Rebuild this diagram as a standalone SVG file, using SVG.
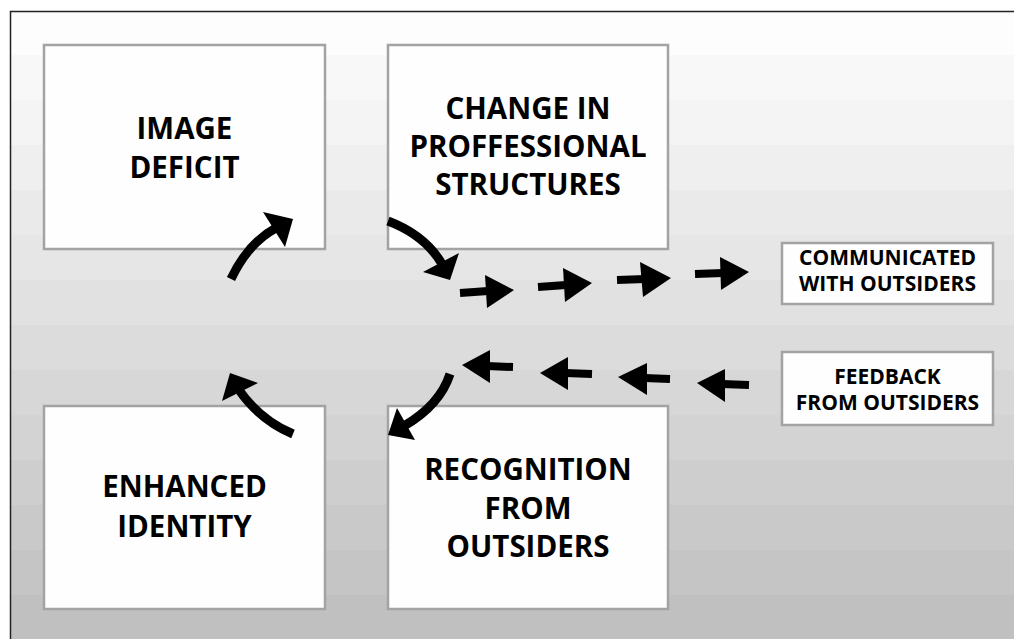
<svg xmlns="http://www.w3.org/2000/svg" width="1014" height="639" viewBox="0 0 1014 639">
<style>
.box{fill:#fefefe;stroke:#a3a3a3;stroke-width:2.5}
.big{font-family:"Open Sans","Liberation Sans",sans-serif;font-weight:bold;font-size:29.5px;fill:#000;text-anchor:middle}
.small{font-family:"Open Sans","Liberation Sans",sans-serif;font-weight:bold;font-size:21px;fill:#000;text-anchor:middle}
.shaft{fill:none;stroke:#000;stroke-width:9}
.hshaft{fill:none;stroke:#000;stroke-width:8}
.head{fill:#000}
</style>
<rect width="1014" height="639" fill="#fff"/>
<g id="background">
<rect x="10" y="11" width="1004" height="44" fill="#fdfdfd"/>
<rect x="10" y="55" width="1004" height="45" fill="#f8f8f8"/>
<rect x="10" y="100" width="1004" height="45" fill="#f4f4f4"/>
<rect x="10" y="145" width="1004" height="45" fill="#efefef"/>
<rect x="10" y="190" width="1004" height="45" fill="#eaeaea"/>
<rect x="10" y="235" width="1004" height="45" fill="#e6e6e6"/>
<rect x="10" y="280" width="1004" height="45" fill="#e1e1e1"/>
<rect x="10" y="325" width="1004" height="45" fill="#dcdcdc"/>
<rect x="10" y="370" width="1004" height="45" fill="#d7d7d7"/>
<rect x="10" y="415" width="1004" height="45" fill="#d3d3d3"/>
<rect x="10" y="460" width="1004" height="45" fill="#cecece"/>
<rect x="10" y="505" width="1004" height="45" fill="#c9c9c9"/>
<rect x="10" y="550" width="1004" height="45" fill="#c5c5c5"/>
<rect x="10" y="595" width="1004" height="44" fill="#c0c0c0"/>
<path d="M10.5,639 V11.5 H1014" fill="none" stroke="#222" stroke-width="1.5"/>
</g>
<g id="node-image-deficit">
<rect class="box" x="44" y="45" width="281" height="204"/>
<text class="big" x="184.5" y="139">IMAGE</text>
<text class="big" x="184.5" y="178">DEFICIT</text>
</g>
<g id="node-change">
<rect class="box" x="388" y="45" width="280" height="204"/>
<text class="big" x="528" y="119">CHANGE IN</text>
<text class="big" x="528" y="157">PROFFESSIONAL</text>
<text class="big" x="528" y="195">STRUCTURES</text>
</g>
<g id="node-enhanced-identity">
<rect class="box" x="44" y="406" width="281" height="203"/>
<text class="big" x="184.5" y="497">ENHANCED</text>
<text class="big" x="184.5" y="537">IDENTITY</text>
</g>
<g id="node-recognition">
<rect class="box" x="388" y="406" width="280" height="203"/>
<text class="big" x="528" y="480">RECOGNITION</text>
<text class="big" x="528" y="519">FROM</text>
<text class="big" x="528" y="557">OUTSIDERS</text>
</g>
<g id="node-communicated">
<rect class="box" x="782" y="243" width="211" height="61"/>
<text class="small" x="887.5" y="265">COMMUNICATED</text>
<text class="small" x="887.5" y="291">WITH OUTSIDERS</text>
</g>
<g id="node-feedback">
<rect class="box" x="782" y="352" width="211" height="73"/>
<text class="small" x="887.5" y="384">FEEDBACK</text>
<text class="small" x="887.5" y="410">FROM OUTSIDERS</text>
</g>
<g id="connectors">
<path class="shaft" d="M231,279 Q248,243 276,228"/>
<polygon class="head" points="263,212 293,219 285,247"/>
<path class="shaft" d="M388,221 Q425,235 442,264"/>
<polygon class="head" points="423,272 459,253 450,280"/>
<path class="shaft" d="M450,374 Q440,405 404,426"/>
<polygon class="head" points="397,408 388,435 415,440"/>
<path class="shaft" d="M293,434 Q260,420 239,390"/>
<polygon class="head" points="230,373 258,383 222,401"/>
<path class="hshaft" d="M460,293 L488,291"/>
<polygon class="head" points="485,275 514,290 487,308"/>
<path class="hshaft" d="M538,287 L566,285"/>
<polygon class="head" points="563,268 592,283 565,302"/>
<path class="hshaft" d="M617,280 L645,279"/>
<polygon class="head" points="640,262 671,278 643,297"/>
<path class="hshaft" d="M695,274 L723,273"/>
<polygon class="head" points="720,257 749,272 721,290"/>
<path class="hshaft" d="M487,366 L513,367"/>
<polygon class="head" points="462,365 490,350 490,383"/>
<path class="hshaft" d="M565,373 L592,374"/>
<polygon class="head" points="540,373 568,357 568,390"/>
<path class="hshaft" d="M644,378 L670,379"/>
<polygon class="head" points="618,377 647,363 647,395"/>
<path class="hshaft" d="M722,384 L749,385"/>
<polygon class="head" points="697,383 725,369 725,402"/>
</g>
</svg>
